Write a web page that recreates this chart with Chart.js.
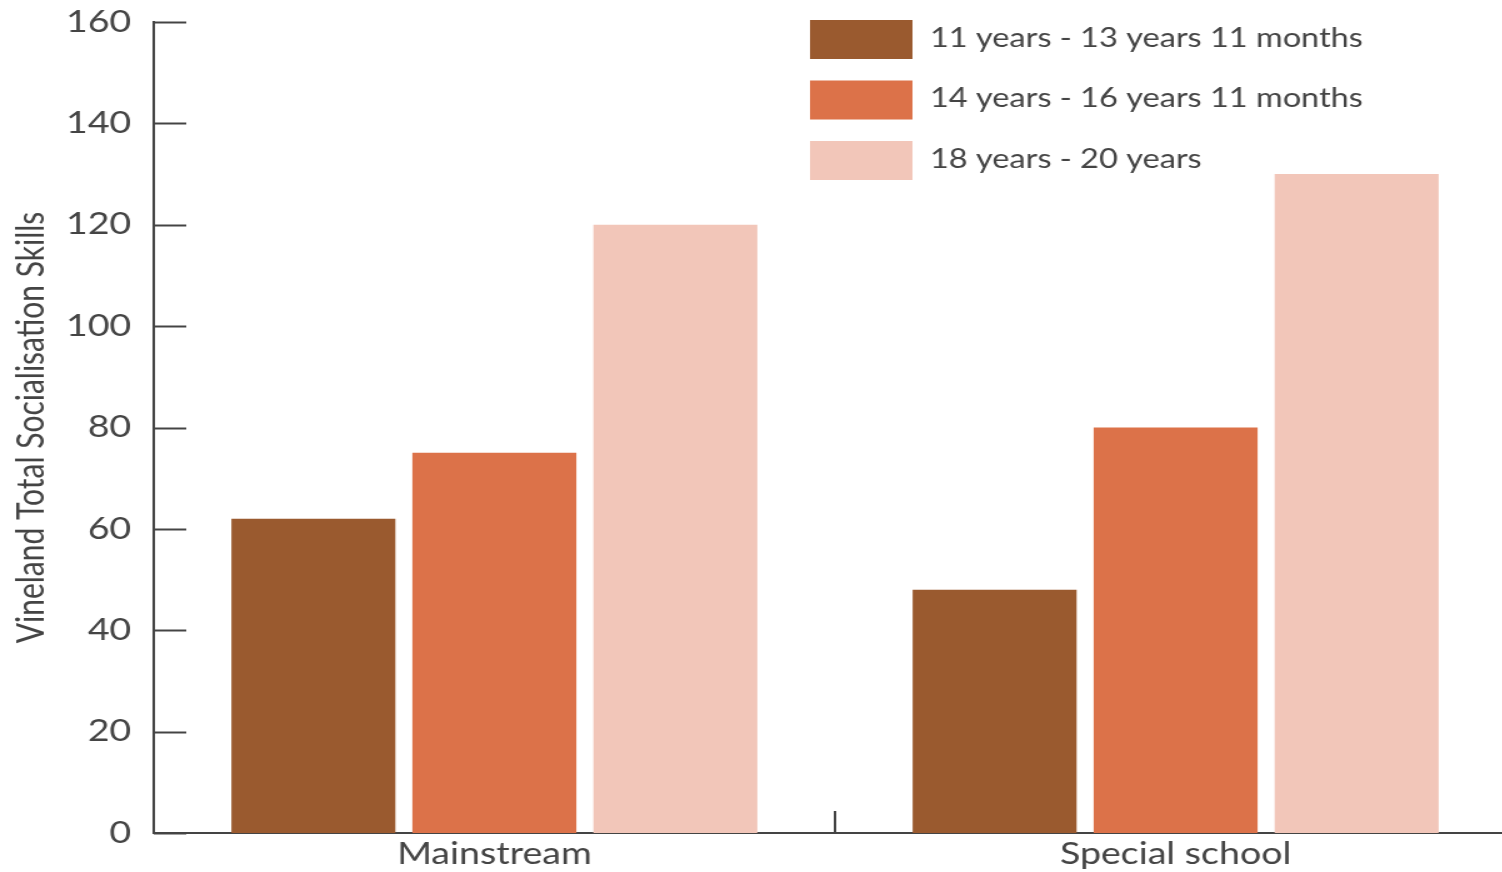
<!DOCTYPE html>
<html>
<head>
<meta charset="utf-8">
<script src="https://cdn.jsdelivr.net/npm/chart.js@4/dist/chart.umd.min.js"></script>
<style>
  html, body { margin: 0; padding: 0; background: #ffffff; overflow: hidden; }
  #wrap { width: 1520px; height: 872px; }
  /* the drawing is widened horizontally by CSS, which gives the broad lettering */
  #c { display: block; width: 1520px; height: 872px; }
</style>
</head>
<body>
<div id="wrap"><canvas id="c" width="1216" height="872" style="width:1520px;height:872px"></canvas></div>
<script>
// Schools compared on the x axis
const categories = ['Mainstream', 'Special school'];

// Age groups (one series each)
const seriesLabels = [
  '11 years - 13 years 11 months',
  '14 years - 16 years 11 months',
  '18 years - 20 years'
];
const age11to13 = [62, 48];
const age14to16 = [75, 80];
const age18to20 = [120, 130];

// Vineland scale ticks
const yTicks = [0, 20, 40, 60, 80, 100, 120, 140, 160];

const seriesColors = ['#9a5a2f', '#dc7249', '#f2c6b9'];
const inkColor = '#444444';
const fontFamily = 'Lato, "Open Sans", sans-serif';

// Short ticks pointing into the plot, plus the divider tick between groups
const innerTicks = {
  id: 'innerTicks',
  afterDraw(chart) {
    const { ctx, chartArea, scales } = chart;
    ctx.save();
    ctx.strokeStyle = inkColor;
    ctx.lineWidth = 2;
    yTicks.forEach(v => {
      const y = Math.round(scales.y.getPixelForValue(v)) + 0.5;
      ctx.beginPath();
      ctx.moveTo(chartArea.left, y);
      ctx.lineTo(chartArea.left + 26, y);
      ctx.stroke();
    });
    for (let i = 0; i < categories.length - 1; i++) {
      const x = (scales.x.getPixelForValue(i) + scales.x.getPixelForValue(i + 1)) / 2;
      ctx.beginPath();
      ctx.moveTo(x, chartArea.bottom);
      ctx.lineTo(x, chartArea.bottom - 22);
      ctx.stroke();
    }
    ctx.restore();
  }
};

// Stacked legend with wide colour blocks in the upper right
const blockLegend = {
  id: 'blockLegend',
  afterDraw(chart) {
    const { ctx } = chart;
    ctx.save();
    ctx.font = '26px ' + fontFamily;
    ctx.textBaseline = 'middle';
    ctx.textAlign = 'left';
    chart.data.datasets.forEach((ds, i) => {
      const bx = 648, by = 20 + i * 60.5, bw = 82, bh = 39;
      ctx.fillStyle = ds.backgroundColor;
      ctx.fillRect(bx, by, bw, bh);
      ctx.fillStyle = inkColor;
      ctx.fillText(ds.label, 744, by + bh / 2 - 1);
    });
    ctx.restore();
  }
};

const seriesValues = [age11to13, age14to16, age18to20];

new Chart(document.getElementById('c'), {
  type: 'bar',
  data: {
    labels: categories,
    datasets: seriesValues.map((vals, i) => ({
      label: seriesLabels[i],
      data: vals,
      backgroundColor: seriesColors[i],
      borderWidth: 0,
      categoryPercentage: 0.797,
      barPercentage: 0.906
    }))
  },
  options: {
    responsive: false,
    animation: false,
    devicePixelRatio: 1,
    layout: { padding: { top: 22, right: 3, left: 0, bottom: 0 } },
    plugins: {
      legend: { display: false },
      tooltip: { enabled: false }
    },
    scales: {
      x: {
        offset: true,
        grid: { display: false, drawTicks: false },
        border: { display: true, color: inkColor, width: 2 },
        ticks: {
          color: inkColor,
          font: { family: fontFamily, size: 30 },
          padding: 3
        },
        afterFit(s) {
          s.height = 39;
          s.paddingLeft = 0;
          s.paddingRight = 0;
        }
      },
      y: {
        min: 0,
        max: 160,
        afterBuildTicks(s) { s.ticks = yTicks.map(v => ({ value: v })); },
        grid: { display: false, drawTicks: false },
        border: { display: true, color: inkColor, width: 2 },
        ticks: {
          color: inkColor,
          font: { family: fontFamily, size: 30 },
          padding: 18
        },
        title: {
          display: true,
          text: 'Vineland Total Socialisation Skills',
          color: inkColor,
          font: { family: fontFamily, size: 30 },
          padding: { top: 7, bottom: 0 }
        },
        afterFit(s) {
          s.width = 123;
          s.paddingTop = 0;
          s.paddingBottom = 0;
        }
      }
    }
  },
  plugins: [innerTicks, blockLegend]
});
</script>
</body>
</html>
